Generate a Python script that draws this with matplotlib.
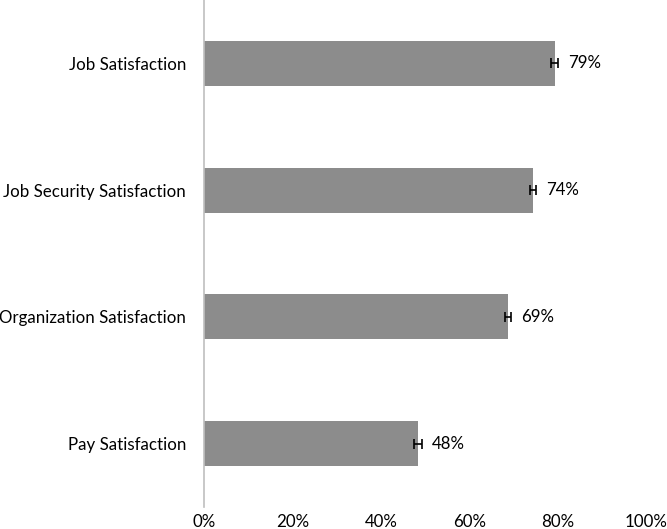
import matplotlib
matplotlib.use("Agg")
import matplotlib.pyplot as plt
from matplotlib.ticker import FuncFormatter

categories = ["Job Satisfaction", "Job Security Satisfaction", "Organization Satisfaction", "Pay Satisfaction"]
values = [0.794, 0.744, 0.688, 0.484]
errors = [0.008, 0.007, 0.007, 0.009]
labels = ["79%", "74%", "69%", "48%"]
xticks = [0, 0.2, 0.4, 0.6, 0.8, 1.0]

plt.rcParams['font.family'] = ['Lato', 'DejaVu Sans']

fig = plt.figure(figsize=(6.67, 5.29), dpi=100)
ax = fig.add_axes([204/667, 1-507/529, 442/667, 507/529])

ypos = list(range(len(categories)))
ax.barh(ypos, values, height=0.355, color="#8c8c8c", zorder=2)
ax.errorbar(values, ypos, xerr=errors, fmt="none", ecolor="black", elinewidth=1.2, capsize=3.6, capthick=1.2, zorder=3)
for y, v, e, lab in zip(ypos, values, errors, labels):
    ax.text(v + e + 0.022, y, lab, va="center", ha="left", fontsize=12.2, color="black")

ax.set_ylim(3.5, -0.5)
ax.set_xlim(0, 1.0)
ax.set_yticks(ypos)
ax.set_yticklabels(categories, fontsize=12.2)
ax.set_xticks(xticks)
ax.xaxis.set_major_formatter(FuncFormatter(lambda x, p: f"{x*100:.0f}%"))
ax.tick_params(axis="x", labelsize=12.2, length=0, pad=5)
ax.tick_params(axis="y", length=0, pad=13)
for s in ["top", "right", "bottom"]:
    ax.spines[s].set_visible(False)
ax.spines["left"].set_color("#bfbfbf")
ax.spines["left"].set_linewidth(1.2)

fig.savefig("out.png", dpi=100)
